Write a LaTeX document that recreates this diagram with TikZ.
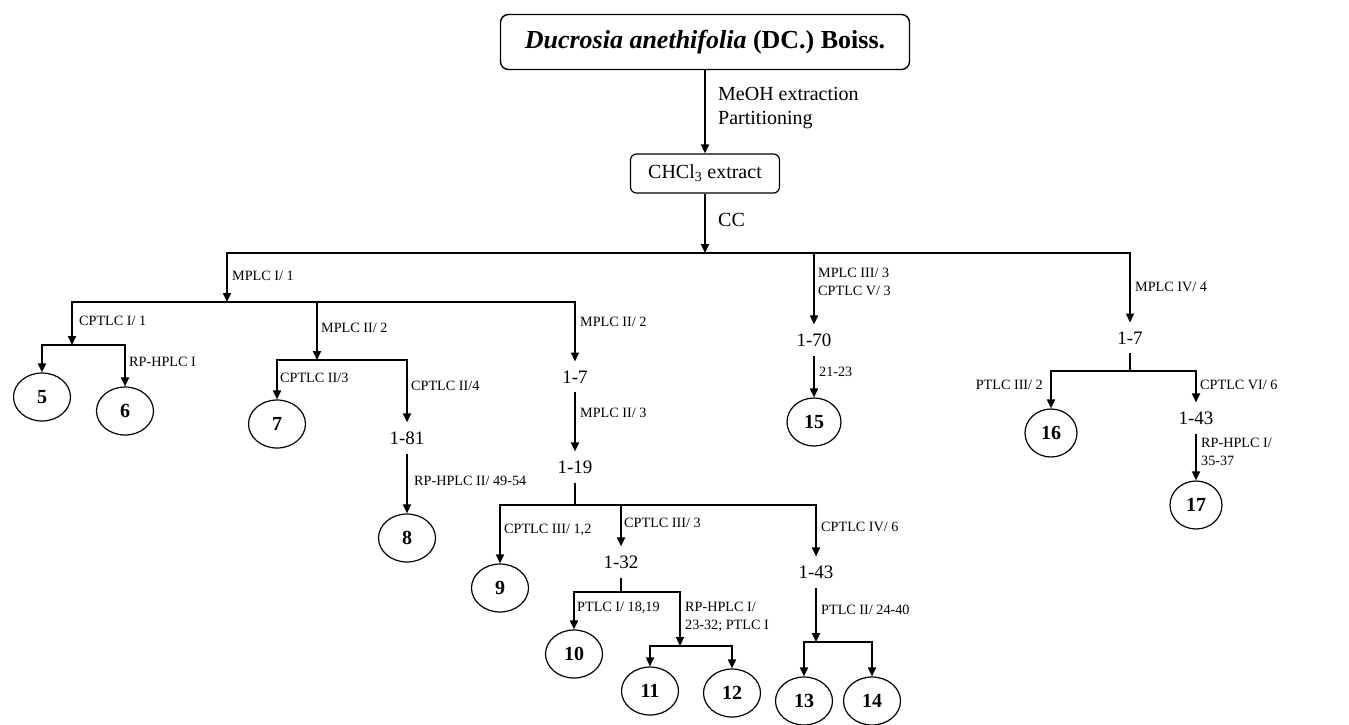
\documentclass[tikz,border=0pt]{standalone}
\usepackage{fontspec}
\setmainfont{Liberation Serif}
\usetikzlibrary{shapes.geometric,arrows.meta}

\tikzset{
    conn/.style={line width=1.8pt},
    arr/.style={conn, -{Triangle[length=9pt,width=8pt]}},
    arrboth/.style={conn, {Triangle[length=9pt,width=8pt]}-{Triangle[length=9pt,width=8pt]}},
    bigbox/.style={draw, rounded corners=8pt, line width=1.4pt},
    cmpd/.style={ellipse, draw, line width=1.2pt, minimum width=57pt, minimum height=48pt, inner sep=0pt, font=\fontsize{20}{20}\selectfont\bfseries},
    frac/.style={inner xsep=2pt, inner ysep=9pt, font=\fontsize{19}{19}\selectfont},
    lab/.style={anchor=west, align=left, inner sep=0pt, font=\fontsize{14.2}{18}\selectfont}
}

\begin{document}
\begin{tikzpicture}[x=1pt,y=-1pt]
        \useasboundingbox[fill=white] (0,0) rectangle (1349,724);

        % Plant and extract
        \node[bigbox, minimum width=409pt, minimum height=55pt, font=\fontsize{26}{26}\selectfont\bfseries] (plant) at (705,42) {\textit{Ducrosia anethifolia} (DC.) Boiss.};
        \node[bigbox, rounded corners=6pt, line width=1.2pt, minimum width=149pt, minimum height=39pt, font=\fontsize{20}{20}\selectfont] (chcl) at (705,173.5) {CHCl\textsubscript{3} extract};

        % Junction points
        \coordinate (j0) at (705,253);
        \coordinate (j1) at (227,302);
        \coordinate (b2) at (814,253);
        \coordinate (d1) at (72,345);
        \coordinate (c2) at (317,302);
        \coordinate (d2) at (317,360);
        \coordinate (g0) at (575,505);
        \coordinate (g2) at (621,505);
        \coordinate (h0) at (621,592);
        \coordinate (k0) at (680,646);
        \coordinate (m0) at (816,642);
        \coordinate (p0) at (1130,371);

        % Fractions
        \node[frac] (f181) at (407,438) {1-81};
        \node[frac] (fA) at (575,377) {1-7};
        \node[frac] (fB) at (575,467) {1-19};
        \node[frac] (f132) at (621,562) {1-32};
        \node[frac] (f143a) at (816,572) {1-43};
        \node[frac] (f170) at (814,340) {1-70};
        \node[frac] (f17b) at (1130,338) {1-7};
        \node[frac] (f143b) at (1196,418) {1-43};

        % Compounds
        \node[cmpd] (n5) at (42,397) {5};
        \node[cmpd] (n6) at (125,411) {6};
        \node[cmpd] (n7) at (277,424) {7};
        \node[cmpd] (n8) at (407,538) {8};
        \node[cmpd] (n9) at (500,588) {9};
        \node[cmpd] (n10) at (574,654) {10};
        \node[cmpd] (n11) at (650,691) {11};
        \node[cmpd] (n12) at (732,693) {12};
        \node[cmpd] (n13) at (804,701) {13};
        \node[cmpd] (n14) at (872,701) {14};
        \node[cmpd, minimum width=54pt] (n15) at (814,422) {15};
        \node[cmpd, minimum width=52pt] (n16) at (1051,433) {16};
        \node[cmpd, minimum width=52pt] (n17) at (1196,505) {17};

        % Connectors
        \draw[arr] (plant) -- (chcl);
        \draw[arr] (chcl) -- (j0);
        \draw[arrboth] (j1) |- (j0) -| (f17b.north);
        \draw[arr] (b2) -- (f170);
        \draw[arrboth] (d1) |- (j1) -| (fA.north);
        \draw[arr] (c2) -- (d2);
        \draw[arrboth] (n5.north) |- (d1) -| (n6.north);
        \draw[arrboth] (n7.north) |- (d2) -| (f181.north);
        \draw[arr] (f181) -- (n8);
        \draw[arr] (fA) -- (fB);
        \draw[conn] (fB) -- (g0);
        \draw[arrboth] (n9.north) |- (g0) -| (f143a.north);
        \draw[arr] (g2) -- (f132);
        \draw[conn] (f132) -- (h0);
        \draw[arrboth] (n10.north) |- (h0) -| (k0);
        \draw[arrboth] (n11.north) |- (k0) -| (n12.north);
        \draw[arr] (f143a) -- (m0);
        \draw[arrboth] (n13.north) |- (m0) -| (n14.north);
        \draw[arr] (f170) -- (n15);
        \draw[conn] (f17b) -- (p0);
        \draw[arrboth] (n16.north) |- (p0) -| (f143b.north);
        \draw[arr] (f143b) -- (n17);

        % Method labels
        \node[lab, font=\fontsize{20}{24}\selectfont] (lmeoh) at (718,108) {MeOH extraction\\Partitioning};
        \node[lab, font=\fontsize{20}{24}\selectfont] (lcc) at (718,220) {CC};
        \node[lab] (lmplc1) at (232,276) {MPLC I/ 1};
        \node[lab] (lcptlc1) at (79,321) {CPTLC I/ 1};
        \node[lab] (lrp1) at (129,362) {RP-HPLC I};
        \node[lab] (lmplc2a) at (321,328) {MPLC II/ 2};
        \node[lab] (lcptlc2a) at (280,378) {CPTLC II/3};
        \node[lab] (lcptlc2b) at (411,386) {CPTLC II/4};
        \node[lab] (lrp2) at (414,481) {RP-HPLC II/ 49-54};
        \node[lab] (lmplc2b) at (580,322) {MPLC II/ 2};
        \node[lab] (lmplc2c) at (580,413) {MPLC II/ 3};
        \node[lab] (lcptlc3a) at (504,530) {CPTLC III/ 1,2};
        \node[lab] (lcptlc3b) at (624,523) {CPTLC III/ 3};
        \node[lab] (lptlc1) at (577,608) {PTLC I/ 18,19};
        \node[lab] (lrp3) at (685,617) {RP-HPLC I/\\23-32; PTLC I};
        \node[lab] (lcptlc4) at (821,527) {CPTLC IV/ 6};
        \node[lab] (lptlc2) at (821,610) {PTLC II/ 24-40};
        \node[lab] (lmplc3) at (818,282) {MPLC III/ 3\\CPTLC V/ 3};
        \node[lab] (lfr) at (819,372) {21-23};
        \node[lab] (lmplc4) at (1135,287) {MPLC IV/ 4};
        \node[lab, anchor=east] (lptlc3) at (1043,385) {PTLC III/ 2};
        \node[lab] (lcptlc6) at (1200,385) {CPTLC VI/ 6};
        \node[lab] (lrp4) at (1201,452) {RP-HPLC I/\\35-37};

\end{tikzpicture}
\end{document}
